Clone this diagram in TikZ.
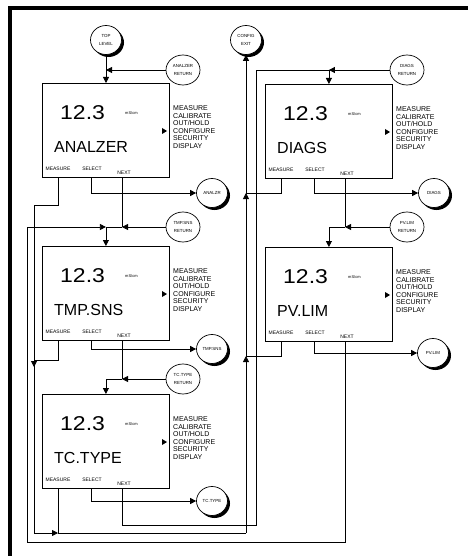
\documentclass[tikz,border=0pt]{standalone}
\usepackage{fontspec}
\setmainfont{Liberation Sans}
\usetikzlibrary{arrows.meta,shapes.geometric,calc}

\tikzset{
  conn/.style={line width=0.8pt, black},
  arr/.style={conn, -{Triangle[length=6pt,width=6pt]}},
  dispbox/.style={draw, line width=0.8pt, minimum width=127pt, minimum height=94pt, inner sep=0pt, anchor=north west},
  valtxt/.style={inner sep=0pt, font=\fontsize{20}{20}\selectfont},
  unittxt/.style={inner sep=0pt, font=\fontsize{4}{4}\selectfont},
  nametxt/.style={inner sep=0pt, font=\fontsize{16}{16}\selectfont},
  keytxt/.style={inner sep=0pt, font=\fontsize{5}{5}\selectfont},
  menutxt/.style={inner sep=0pt, align=left, font=\fontsize{7}{7.6}\selectfont},
  bubble/.style={ellipse, draw, fill=white, line width=0.7pt, minimum width=31pt, minimum height=29pt, inner sep=0pt, align=center, font=\fontsize{4.4}{7.4}\selectfont},
  retbubble/.style={bubble, minimum width=34pt, minimum height=30pt},
  shadowblob/.style={ellipse, fill=black, minimum width=31pt, minimum height=29pt, inner sep=0pt},
  frameline/.style={line width=4pt, black},
}

\newcommand\dispunit[4]{%
  \node[dispbox] (#1) at (#2,#3) {};
  \node[valtxt, anchor=west] (#1-val) at ([shift={(18,30)}]#1.north west) {\scalebox{1.15}[1]{12.3}};
  \node[unittxt, anchor=west] (#1-unit) at ([shift={(83,30)}]#1.north west) {mS/cm};
  \node[nametxt, anchor=west] (#1-name) at ([shift={(12,64)}]#1.north west) {#4};
  \node[keytxt] (#1-km) at ([shift={(16,86)}]#1.north west) {MEASURE};
  \node[keytxt] (#1-ks) at ([shift={(50,86)}]#1.north west) {SELECT};
  \node[keytxt] (#1-kn) at ([shift={(82,90)}]#1.north west) {NEXT};
  \node[menutxt, anchor=north west] (#1-menu) at ([shift={(131,22.5)}]#1.north west)
     {MEASURE\\CALIBRATE\\OUT/HOLD\\CONFIGURE\\SECURITY\\DISPLAY};
  \fill ([shift={(125,48)}]#1.north west) -- ++(-5,-3) -- ++(0,6) -- cycle;
  \coordinate (#1-m) at ([shift={(16,0)}]#1.south west);
  \coordinate (#1-s) at ([shift={(49,0)}]#1.south west);
  \coordinate (#1-n) at ([shift={(80,0)}]#1.south west);
}

\newcommand\shadowbubble[4]{%
  \node[shadowblob] (#1-sh) at ([shift={(2.5,2.5)}]#2,#3) {};
  \node[bubble] (#1) at (#2,#3) {#4};
}

\begin{document}
\begin{tikzpicture}[x=1pt, y=-1pt]
  \useasboundingbox (0,0) rectangle (468,556);
  \fill[white] (0,0) rectangle (468,556);
  \draw[frameline] (10,556) -- (10,8) -- (468,8);

  % display units
  \dispunit{an}{42}{83}{ANALZER}
  \dispunit{tmp}{42}{246}{TMP.SNS}
  \dispunit{tc}{42}{394}{TC.TYPE}
  \dispunit{dg}{265}{84}{DIAGS}
  \dispunit{pv}{265}{247}{PV.LIM}

  % bubbles
  \shadowbubble{top}{106}{40}{TOP\\LEVEL}
  \shadowbubble{cfg}{246}{40}{CONFIG\\EXIT}
  \shadowbubble{anc}{212}{193}{ANALZR}
  \shadowbubble{dgc}{434}{193}{DIAGS}
  \shadowbubble{tmc}{212}{349}{TMP.SNS}
  \shadowbubble{pvc}{433}{353}{PV.LIM}
  \shadowbubble{tcc}{212}{501}{TC.TYPE}
  \node[retbubble] (anr) at (183,70) {ANALZER\\RETURN};
  \node[retbubble] (dgr) at (407,70) {DIAGS\\RETURN};
  \node[retbubble] (tmr) at (183,227) {TMP.SNS\\RETURN};
  \node[retbubble] (pvr) at (407,227) {PV.LIM\\RETURN};
  \node[retbubble] (tcr) at (183,379) {TC.TYPE\\RETURN};

  % junction coordinates
  \coordinate (mA) at (34,205);
  \coordinate (mB) at (34,360);
  \coordinate (mC) at (34,533);
  \coordinate (mD) at (246,533);
  \coordinate (mE) at (246,356);
  \coordinate (mF) at (246,193);
  \coordinate (lpB) at (27,542);
  \coordinate (lnA) at (256,525);

  % top level entry
  \draw[arr] (top) -- (top |- an.north);
  \draw[arr] (anr) -- (anr -| top);

  % MEASURE bus to CONFIG EXIT
  \draw[conn] (an-m) -- (an-m |- mA) -- (mA) -- (mB);
  \draw[conn] (tmp-m) -- (tmp-m |- mB) -- (mB);
  \draw[conn] (mB) -- (mC);
  \draw[arr] (mB) -- ([shift={(0,7)}]mB);
  \draw[arr] (mC) -- (mC -| tc-m);
  \draw[conn] (tc-m) -- (tc-m |- mC) -- (mD);
  \draw[conn] (pv-m) -- (pv-m |- mE) -- (mE);
  \draw[conn] (dg-m) -- (dg-m |- mF) -- (mF);
  \draw[arr] (mD) -- (mE);
  \draw[arr] (mE) -- (mF);
  \draw[arr] (mF) -- (cfg);

  % SELECT lines
  \draw[arr] (an-s) |- (anc);
  \draw[arr] (tmp-s) |- (tmc);
  \draw[arr] (tc-s) |- (tcc);
  \draw[arr] (dg-s) |- (dgc);
  \draw[arr] (pv-s) |- (pvc);

  % NEXT lines
  \draw[conn] (an-n) -- (an-n |- tmr);
  \draw[arr] (tmr) -- (an-n |- tmr);
  \draw[arr] (an-n |- tmr) -| (tmp.north);
  \draw[arr] (pv-n) |- (lpB) |- (tmp.north |- tmr);

  \draw[conn] (tmp-n) -- (tmp-n |- tcr);
  \draw[arr] (tcr) -- (tmp-n |- tcr);
  \draw[arr] (tmp-n |- tcr) -| (tc.north);

  \draw[arr] (tc-n) |- (lnA) |- (dgr -| dg.north) -- (dg.north);
  \draw[arr] (dgr) -- (dgr -| dg.north);

  \draw[conn] (dg-n) -- (dg-n |- pvr);
  \draw[arr] (pvr) -- (dg-n |- pvr);
  \draw[arr] (dg-n |- pvr) -| (pv.north);
\end{tikzpicture}
\end{document}
